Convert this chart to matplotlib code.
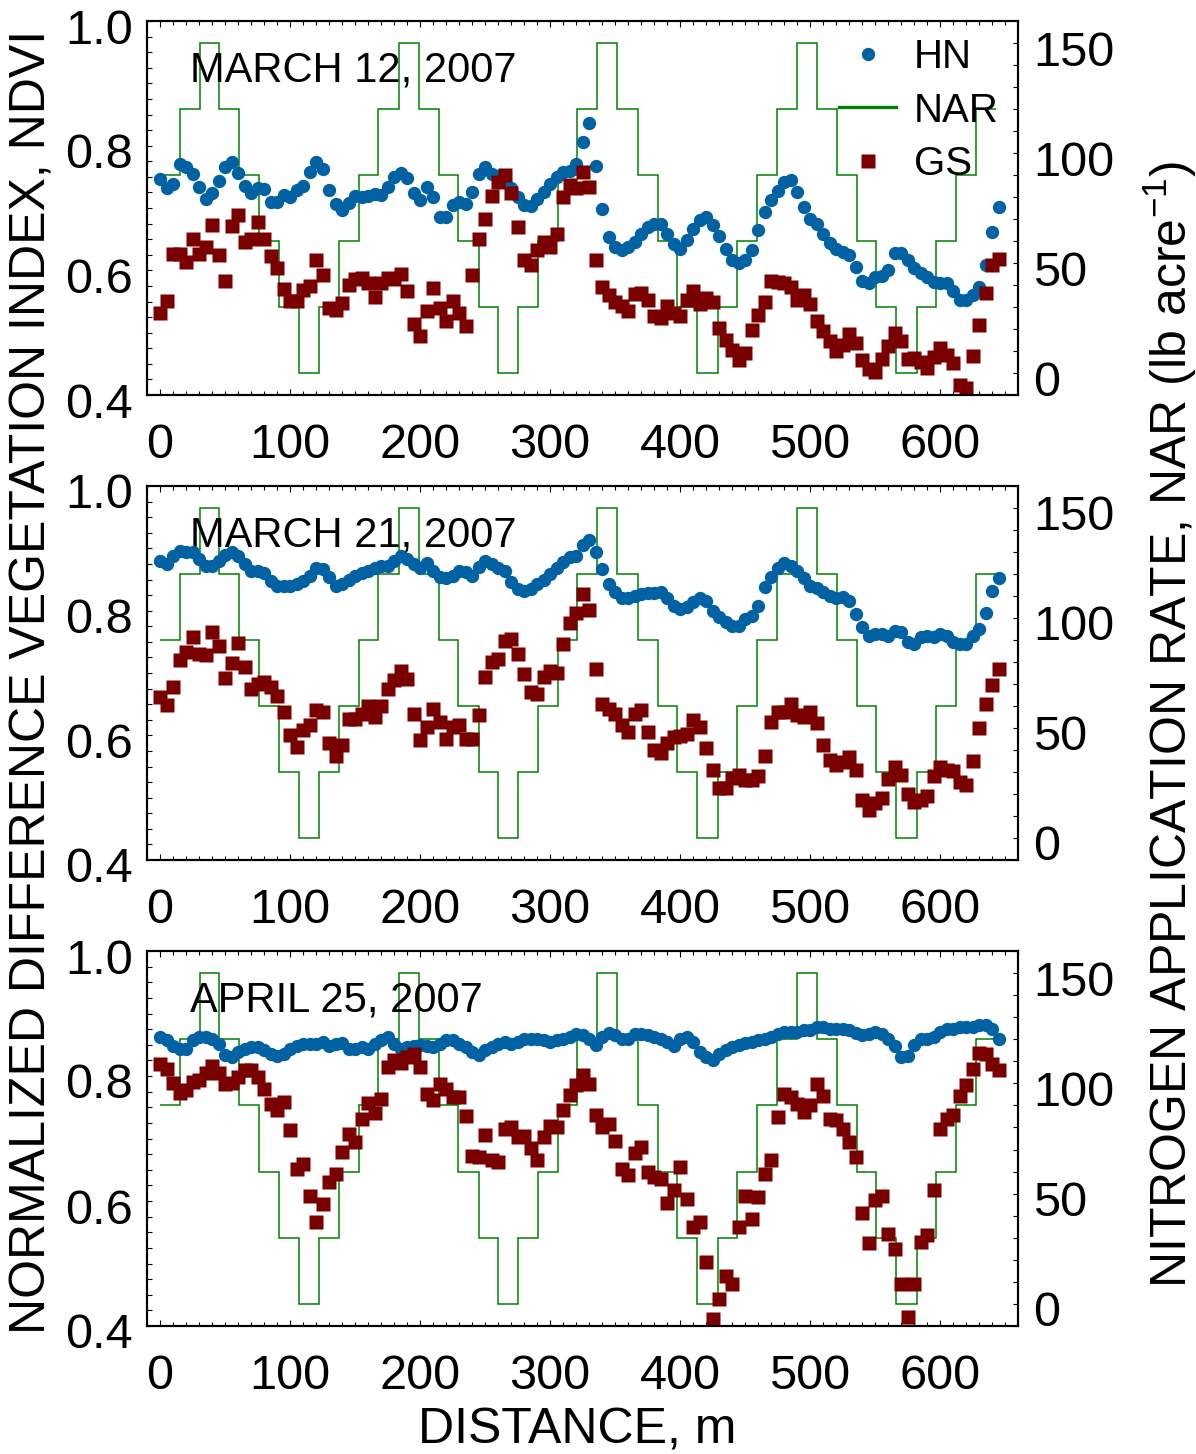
import numpy as np
import matplotlib
matplotlib.use('Agg')
import matplotlib.pyplot as plt
from matplotlib.ticker import FixedLocator, MultipleLocator, FormatStrFormatter
from matplotlib.lines import Line2D
from matplotlib.transforms import ScaledTranslation

plt.rcParams['font.family'] = ['Liberation Sans', 'DejaVu Sans']
plt.rcParams['mathtext.fontset'] = 'custom'
plt.rcParams['mathtext.rm'] = 'Liberation Sans'
plt.rcParams['mathtext.default'] = 'regular'

# ---------------- data ----------------
distance = np.arange(0, 646, 5)  # sampling positions along transect, m

nar_edges = [0, 15, 30.5, 45.5, 61, 76, 91.5, 107, 122, 137.5, 153, 168, 183.5, 199,
             214.5, 229.5, 245, 260, 275.5, 291, 306, 321, 336, 351.5, 367.5, 382.7,
             398, 413, 429, 444, 459, 474.5, 490, 505, 520.5, 536, 551, 566, 582, 597,
             612.5, 628, 643]
nar_rate = [90, 120, 150, 120, 90, 60, 30, 0, 30, 60, 90, 120, 150, 120, 90, 60, 30, 0,
            30, 60, 90, 120, 150, 120, 90, 60, 30, 0, 30, 60, 90, 120, 150, 120, 90, 60,
            30, 0, 30, 60, 90, 120]

hn_mar12 = [0.746, 0.732, 0.739, 0.770, 0.765, 0.755, 0.733, 0.714, 0.724, 0.743,
            0.766, 0.773, 0.756, 0.736, 0.724, 0.732, 0.730, 0.710, 0.710, 0.721,
            0.717, 0.729, 0.736, 0.757, 0.774, 0.763, 0.729, 0.706, 0.697, 0.708,
            0.719, 0.718, 0.719, 0.722, 0.721, 0.734, 0.749, 0.756, 0.748, 0.724,
            0.713, 0.734, 0.717, 0.685, 0.685, 0.705, 0.710, 0.707, 0.725, 0.755,
            0.766, 0.755, 0.752, 0.745, 0.732, 0.718, 0.705, 0.704, 0.715, 0.725,
            0.738, 0.749, 0.757, 0.760, 0.771, 0.806, 0.836, 0.768, 0.699, 0.654,
            0.638, 0.633, 0.638, 0.646, 0.659, 0.669, 0.675, 0.674, 0.659, 0.642,
            0.635, 0.649, 0.666, 0.681, 0.685, 0.673, 0.655, 0.634, 0.617, 0.612,
            0.616, 0.632, 0.664, 0.694, 0.713, 0.728, 0.742, 0.745, 0.725, 0.702,
            0.683, 0.674, 0.658, 0.644, 0.635, 0.630, 0.625, 0.606, 0.583, 0.579,
            0.589, 0.591, 0.601, 0.628, 0.628, 0.616, 0.603, 0.595, 0.589, 0.582,
            0.579, 0.579, 0.567, 0.552, 0.552, 0.560, 0.574, 0.609, 0.662, 0.701]
gs_mar12 = [0.531, 0.551, 0.626, 0.627, 0.614, 0.651, 0.627, 0.638, 0.673, 0.624,
            0.583, 0.671, 0.689, 0.646, 0.650, 0.678, 0.651, 0.623, 0.603, 0.570,
            0.551, 0.551, 0.568, 0.575, 0.617, 0.593, 0.539, 0.537, 0.547, 0.576,
            0.586, 0.587, 0.579, 0.557, 0.579, 0.587, 0.586, 0.594, 0.567, 0.514,
            0.495, 0.534, 0.571, 0.539, 0.518, 0.551, 0.531, 0.511, 0.593, 0.651,
            0.683, 0.719, 0.742, 0.753, 0.724, 0.670, 0.616, 0.609, 0.633, 0.646,
            0.638, 0.659, 0.717, 0.737, 0.732, 0.758, 0.733, 0.617, 0.574, 0.560,
            0.550, 0.542, 0.534, 0.562, 0.564, 0.552, 0.526, 0.524, 0.543, 0.531,
            0.527, 0.553, 0.567, 0.546, 0.555, 0.550, 0.507, 0.489, 0.472, 0.456,
            0.468, 0.505, 0.528, 0.550, 0.583, 0.582, 0.579, 0.574, 0.552, 0.560,
            0.546, 0.519, 0.502, 0.486, 0.471, 0.480, 0.498, 0.484, 0.456, 0.441,
            0.437, 0.457, 0.478, 0.499, 0.486, 0.457, 0.459, 0.453, 0.443, 0.461,
            0.475, 0.464, 0.451, 0.416, 0.411, 0.463, 0.512, 0.563, 0.609, 0.618]

hn_mar21 = [0.880, 0.875, 0.888, 0.896, 0.894, 0.894, 0.883, 0.871, 0.872, 0.880,
            0.890, 0.894, 0.887, 0.875, 0.864, 0.863, 0.860, 0.848, 0.840, 0.839,
            0.839, 0.842, 0.848, 0.856, 0.869, 0.867, 0.854, 0.840, 0.843, 0.849,
            0.855, 0.860, 0.864, 0.869, 0.871, 0.872, 0.880, 0.888, 0.883, 0.875,
            0.869, 0.876, 0.863, 0.854, 0.853, 0.856, 0.864, 0.862, 0.855, 0.870,
            0.880, 0.875, 0.869, 0.863, 0.846, 0.835, 0.831, 0.835, 0.842, 0.849,
            0.859, 0.869, 0.878, 0.886, 0.888, 0.906, 0.913, 0.894, 0.867, 0.843,
            0.830, 0.821, 0.821, 0.824, 0.827, 0.828, 0.828, 0.830, 0.821, 0.807,
            0.803, 0.806, 0.814, 0.821, 0.816, 0.800, 0.790, 0.782, 0.775, 0.776,
            0.787, 0.792, 0.808, 0.838, 0.854, 0.869, 0.876, 0.872, 0.864, 0.853,
            0.839, 0.837, 0.830, 0.823, 0.821, 0.822, 0.815, 0.794, 0.774, 0.760,
            0.763, 0.763, 0.760, 0.767, 0.766, 0.750, 0.746, 0.758, 0.759, 0.758,
            0.762, 0.759, 0.750, 0.746, 0.747, 0.759, 0.771, 0.796, 0.832, 0.853]
gs_mar21 = [0.661, 0.648, 0.678, 0.721, 0.734, 0.758, 0.731, 0.729, 0.766, 0.743,
            0.692, 0.716, 0.748, 0.709, 0.675, 0.683, 0.686, 0.677, 0.663, 0.637,
            0.601, 0.582, 0.608, 0.616, 0.641, 0.637, 0.588, 0.567, 0.584, 0.626,
            0.626, 0.635, 0.647, 0.630, 0.647, 0.674, 0.689, 0.703, 0.691, 0.635,
            0.592, 0.614, 0.642, 0.621, 0.594, 0.614, 0.616, 0.594, 0.594, 0.632,
            0.693, 0.718, 0.722, 0.751, 0.755, 0.730, 0.699, 0.670, 0.666, 0.694,
            0.704, 0.700, 0.746, 0.780, 0.796, 0.826, 0.801, 0.706, 0.650, 0.643,
            0.635, 0.617, 0.606, 0.635, 0.640, 0.605, 0.577, 0.571, 0.587, 0.597,
            0.599, 0.602, 0.624, 0.613, 0.579, 0.545, 0.516, 0.516, 0.532, 0.537,
            0.529, 0.529, 0.534, 0.567, 0.622, 0.638, 0.638, 0.650, 0.633, 0.629,
            0.638, 0.620, 0.585, 0.561, 0.553, 0.558, 0.565, 0.545, 0.496, 0.481,
            0.491, 0.500, 0.530, 0.550, 0.537, 0.506, 0.493, 0.497, 0.502, 0.534,
            0.550, 0.545, 0.542, 0.525, 0.521, 0.559, 0.611, 0.650, 0.681, 0.707]

hn_apr25 = [0.862, 0.858, 0.848, 0.844, 0.844, 0.858, 0.863, 0.862, 0.859, 0.852,
            0.834, 0.830, 0.839, 0.844, 0.846, 0.847, 0.842, 0.836, 0.832, 0.836,
            0.844, 0.848, 0.851, 0.851, 0.852, 0.855, 0.848, 0.851, 0.853, 0.844,
            0.843, 0.846, 0.844, 0.851, 0.858, 0.862, 0.851, 0.844, 0.846, 0.848,
            0.850, 0.848, 0.847, 0.852, 0.858, 0.858, 0.852, 0.847, 0.839, 0.834,
            0.842, 0.847, 0.852, 0.855, 0.852, 0.855, 0.859, 0.860, 0.859, 0.857,
            0.855, 0.858, 0.859, 0.863, 0.867, 0.866, 0.860, 0.850, 0.862, 0.869,
            0.866, 0.859, 0.859, 0.868, 0.868, 0.866, 0.863, 0.860, 0.855, 0.848,
            0.860, 0.863, 0.855, 0.839, 0.830, 0.825, 0.836, 0.842, 0.846, 0.850,
            0.853, 0.855, 0.858, 0.860, 0.863, 0.867, 0.871, 0.871, 0.871, 0.873,
            0.874, 0.878, 0.878, 0.876, 0.876, 0.875, 0.873, 0.869, 0.866, 0.867,
            0.871, 0.868, 0.859, 0.848, 0.831, 0.832, 0.850, 0.859, 0.860, 0.863,
            0.871, 0.875, 0.876, 0.878, 0.878, 0.878, 0.882, 0.882, 0.876, 0.860]
gs_apr25 = [0.819, 0.811, 0.789, 0.773, 0.778, 0.791, 0.794, 0.805, 0.816, 0.805,
            0.787, 0.789, 0.799, 0.809, 0.809, 0.798, 0.780, 0.756, 0.746, 0.759,
            0.714, 0.651, 0.659, 0.608, 0.567, 0.596, 0.630, 0.643, 0.678, 0.708,
            0.695, 0.732, 0.757, 0.741, 0.764, 0.814, 0.826, 0.821, 0.831, 0.836,
            0.814, 0.772, 0.762, 0.787, 0.779, 0.767, 0.767, 0.736, 0.672, 0.671,
            0.706, 0.665, 0.662, 0.715, 0.718, 0.702, 0.704, 0.685, 0.665, 0.702,
            0.720, 0.718, 0.746, 0.770, 0.786, 0.802, 0.788, 0.738, 0.719, 0.723,
            0.696, 0.651, 0.642, 0.677, 0.686, 0.647, 0.638, 0.635, 0.597, 0.617,
            0.654, 0.603, 0.558, 0.567, 0.502, 0.411, 0.443, 0.480, 0.468, 0.558,
            0.608, 0.571, 0.607, 0.643, 0.666, 0.735, 0.771, 0.766, 0.756, 0.743,
            0.754, 0.787, 0.768, 0.731, 0.730, 0.716, 0.694, 0.670, 0.581, 0.533,
            0.601, 0.608, 0.548, 0.523, 0.468, 0.414, 0.468, 0.535, 0.546, 0.618,
            0.716, 0.731, 0.738, 0.768, 0.786, 0.811, 0.837, 0.835, 0.820, 0.810]

dates = ['MARCH 12, 2007', 'MARCH 21, 2007', 'APRIL 25, 2007']
hn_series = [hn_mar12, hn_mar21, hn_apr25]
gs_series = [gs_mar12, gs_mar21, gs_apr25]

ndvi_ticks = [0.4, 0.6, 0.8, 1.0]
nar_ticks = [0, 50, 100, 150]
dist_ticks = [0, 100, 200, 300, 400, 500, 600]

# ---------------- styling ----------------
HN_C = '#0062A3'
GS_C = '#7A0000'
NAR_C = '#008000'
W, H = 1196, 1454
panels_px = [(21, 395), (486, 860), (951, 1326)]
TICK_FS = 35

fig = plt.figure(figsize=(W / 100, H / 100), dpi=100)
label_shift = ScaledTranslation(0, -5 / 100, fig.dpi_scale_trans)

for i, (top, bot) in enumerate(panels_px):
    ax = fig.add_axes([147 / W, 1 - bot / H, 871 / W, (bot - top) / H])
    ax2 = ax.twinx()
    ax.set_zorder(2)
    ax2.set_zorder(1)
    ax.patch.set_visible(False)

    ax2.stairs(nar_rate, nar_edges, baseline=None, color=NAR_C, lw=1.1)
    ax.plot(distance, hn_series[i], 'o', ms=9.6, color=HN_C, mec='none')
    ax.plot(distance, gs_series[i], 's', ms=9.6, color=GS_C, mec='none')

    ax.set_xlim(-10, 660)
    ax.set_ylim(0.4, 1.0)
    ax2.set_ylim(-10, 160)

    ax.xaxis.set_major_locator(FixedLocator(dist_ticks))
    ax.xaxis.set_minor_locator(MultipleLocator(10))
    ax.yaxis.set_major_locator(FixedLocator(ndvi_ticks))
    ax.yaxis.set_minor_locator(MultipleLocator(0.025))
    ax.yaxis.set_major_formatter(FormatStrFormatter('%.1f'))
    ax2.yaxis.set_major_locator(FixedLocator(nar_ticks))
    ax2.yaxis.set_minor_locator(MultipleLocator(10))

    ax.tick_params(axis='x', which='both', direction='in', top=True, bottom=True,
                   labelsize=TICK_FS, pad=20, width=0.8)
    ax.tick_params(axis='x', which='major', length=4.5)
    ax.tick_params(axis='x', which='minor', length=2.6)
    ax.tick_params(axis='y', which='both', direction='in', left=True, right=False,
                   labelsize=TICK_FS, pad=10, width=0.8, length=3.6)
    ax2.tick_params(axis='y', which='both', direction='in', right=True, left=False,
                    labelsize=TICK_FS, pad=11, width=0.8, length=3.6)
    ax2.tick_params(axis='x', which='both', top=False, bottom=False)

    for lbl in ax.get_yticklabels() + ax2.get_yticklabels():
        lbl.set_transform(lbl.get_transform() + label_shift)

    for a in (ax, ax2):
        for s in a.spines.values():
            s.set_linewidth(1.5)

    ax.text(0.049, 0.839, dates[i], transform=ax.transAxes, fontsize=30,
            ha='left', va='baseline', zorder=1)

    if i == 0:
        h_hn = Line2D([], [], ls='none', marker='o', ms=9.6, color=HN_C, mec='none')
        h_nar = Line2D([], [], color=NAR_C, lw=2.4)
        h_gs = Line2D([], [], ls='none', marker='s', ms=9.6, color=GS_C, mec='none')
        ax.legend([h_hn, h_nar, h_gs], ['HN', 'NAR', 'GS'], loc='upper right',
                  bbox_to_anchor=(0.978, 0.954), frameon=False, fontsize=29,
                  handlelength=1.4, handletextpad=0.45, labelspacing=0.38,
                  borderpad=0, borderaxespad=0)

fig.text(33 / W, 1 - 682 / H, 'NORMALIZED DIFFERENCE VEGETATION INDEX, NDVI',
         rotation=90, ha='center', va='center', fontsize=36)
fig.text(1170 / W, 1 - 725 / H,
         'NITROGEN APPLICATION RATE, NAR (lb acre$^{-1}$)',
         rotation=90, ha='center', va='center', fontsize=36)
fig.text(577 / W, 1 - 1443 / H, 'DISTANCE, m', ha='center', va='baseline',
         fontsize=36)

fig.savefig('out.png', dpi=100)
